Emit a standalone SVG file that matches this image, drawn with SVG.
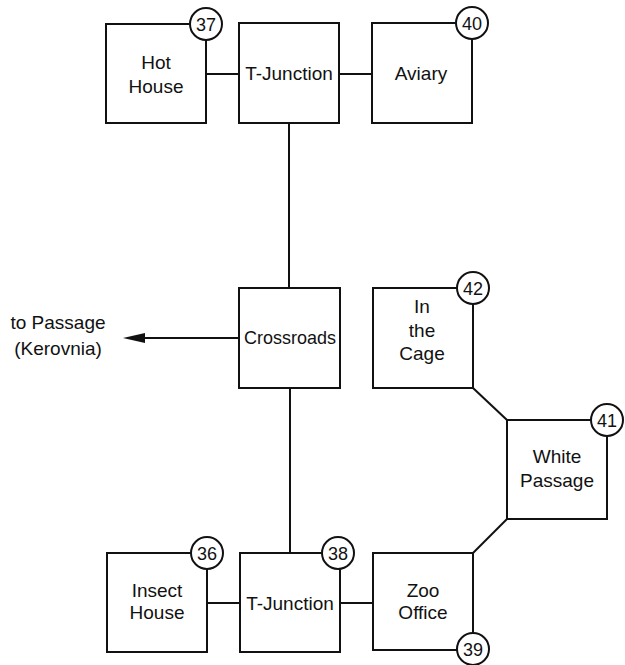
<svg xmlns="http://www.w3.org/2000/svg" width="625" height="665" viewBox="0 0 625 665">
<style>
.box{fill:#fff;stroke:#111;stroke-width:2}
.lbl{font-family:"Liberation Sans",Arial,sans-serif;font-size:19px;fill:#111;text-anchor:middle}
.num{fill:#fff;stroke:#111;stroke-width:2}
.nt{font-family:"Liberation Sans",Arial,sans-serif;font-size:18px;fill:#111;text-anchor:middle}
.con{stroke:#111;stroke-width:2;fill:none}
.head{fill:#111}
</style>
<rect width="625" height="665" fill="#fff"/>
<g id="connectors">
<line class="con" x1="206" y1="74" x2="239" y2="74"/>
<line class="con" x1="339" y1="74" x2="372" y2="74"/>
<line class="con" x1="289" y1="123" x2="289" y2="288"/>
<line class="con" x1="290" y1="388" x2="290" y2="553"/>
<line class="con" x1="239" y1="338" x2="145" y2="338"/>
<path class="head" d="M123,338 L145,333 L145,343 Z"/>
<line class="con" x1="473" y1="388" x2="507" y2="420"/>
<line class="con" x1="507" y1="519" x2="473" y2="553"/>
<line class="con" x1="207" y1="603" x2="240" y2="603"/>
<line class="con" x1="340" y1="603" x2="373" y2="603"/>
</g>
<g id="hot-house">
<rect class="box" x="106" y="24" width="100" height="99"/>
<text class="lbl" x="156" y="69">Hot</text>
<text class="lbl" x="156" y="93">House</text>
<circle class="num" cx="206" cy="24" r="16"/>
<text class="nt" x="206" y="30.5">37</text>
</g>
<g id="t-junction-top">
<rect class="box" x="239" y="23" width="100" height="100"/>
<text class="lbl" x="289" y="80">T-Junction</text>
</g>
<g id="aviary">
<rect class="box" x="372" y="23" width="100" height="100"/>
<text class="lbl" x="421" y="80">Aviary</text>
<circle class="num" cx="472" cy="23" r="16"/>
<text class="nt" x="472" y="29.5">40</text>
</g>
<g id="crossroads">
<rect class="box" x="239" y="288" width="101" height="100"/>
<text class="lbl" x="290" y="344" textLength="92" lengthAdjust="spacingAndGlyphs">Crossroads</text>
</g>
<g id="to-passage">
<text class="lbl" x="58" y="329">to Passage</text>
<text class="lbl" x="58" y="355">(Kerovnia)</text>
</g>
<g id="in-the-cage">
<rect class="box" x="373" y="288" width="100" height="100"/>
<text class="lbl" x="422" y="313">In</text>
<text class="lbl" x="422" y="337">the</text>
<text class="lbl" x="422" y="360">Cage</text>
<circle class="num" cx="473" cy="288" r="16"/>
<text class="nt" x="473" y="294.5">42</text>
</g>
<g id="white-passage">
<rect class="box" x="507" y="420" width="100" height="99"/>
<text class="lbl" x="557" y="463">White</text>
<text class="lbl" x="557" y="487">Passage</text>
<circle class="num" cx="607" cy="420" r="16"/>
<text class="nt" x="607" y="426.5">41</text>
</g>
<g id="insect-house">
<rect class="box" x="107" y="553" width="100" height="99"/>
<text class="lbl" x="157" y="597">Insect</text>
<text class="lbl" x="157" y="619">House</text>
<circle class="num" cx="207" cy="553" r="16"/>
<text class="nt" x="207" y="559.5">36</text>
</g>
<g id="t-junction-bottom">
<rect class="box" x="240" y="553" width="100" height="99"/>
<text class="lbl" x="290" y="610">T-Junction</text>
<circle class="num" cx="338" cy="553" r="16"/>
<text class="nt" x="338" y="559.5">38</text>
</g>
<g id="zoo-office">
<rect class="box" x="373" y="553" width="100" height="97"/>
<text class="lbl" x="423" y="597">Zoo</text>
<text class="lbl" x="423" y="619">Office</text>
<circle class="num" cx="473" cy="649" r="16"/>
<text class="nt" x="473" y="655.5">39</text>
</g>
</svg>
